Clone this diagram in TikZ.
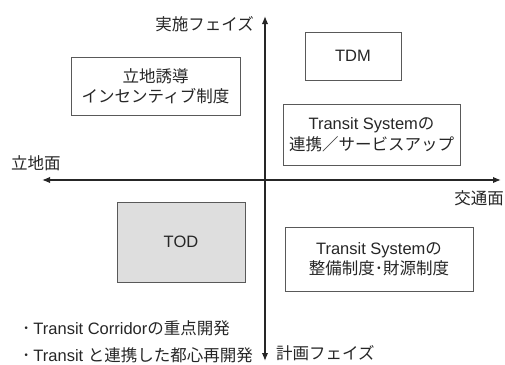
\documentclass[tikz,border=0pt]{standalone}
\usepackage{fontspec}
\setmainfont{Liberation Sans}
\newfontfamily\jp{Noto Sans CJK JP}
\usetikzlibrary{arrows.meta}
\begin{document}
\begin{tikzpicture}[x=1pt,y=-1pt,
  every node/.style={text=black!85, font=\fontsize{16.5}{20.5}\selectfont},
  box/.style={draw=black!65, line width=0.7pt, align=center, inner sep=0pt},
  axis/.style={line width=1.5pt, draw=black!85, {Latex[length=8pt,width=6.5pt]}-{Latex[length=8pt,width=6.5pt]}},
  lbl/.style={inner sep=0pt}]
\useasboundingbox (0,0) rectangle (505,364);
% axes
\coordinate (vtop) at (265,16);
\coordinate (vbot) at (265,361);
\coordinate (hleft) at (42,180);
\coordinate (hright) at (501,180);
\draw[axis] (hleft) -- (hright);
\draw[axis] (vbot) -- (vtop);
% axis labels
\node[lbl, anchor=east] (impl) at (254,24) {\jp 実施フェイズ};
\node[lbl, anchor=west] (land) at (11,163) {\jp 立地面};
\node[lbl, anchor=east] (trans) at (504,198) {\jp 交通面};
\node[lbl, anchor=west] (plan) at (276,353) {\jp 計画フェイズ};
% boxes
\node[box, minimum width=169pt, minimum height=58pt] (incent) at (155.5,86) {{\jp 立地誘導}\\{\jp インセンティブ制度}};
\node[box, minimum width=96pt, minimum height=48pt] (tdm) at (353,56) {TDM};
\node[box, minimum width=177pt, minimum height=61pt] (coop) at (371.5,134.5) {Transit System{\jp の}\\{\jp 連携／サービスアップ}};
\node[box, fill=black!13, minimum width=128pt, minimum height=80pt] (tod) at (181,242) {TOD};
\node[box, minimum width=188pt, minimum height=64pt] (fund) at (379,259) {Transit System{\jp の}\\{\jp 整備制度･財源制度}};
% bullets
\node[lbl, anchor=west] (b1) at (22,328) {{\jp ･}\hspace{3pt}Transit Corridor{\jp の重点開発}};
\node[lbl, anchor=west] (b2) at (22,355) {{\jp ･}\hspace{3pt}Transit {\jp と連携した都心再開発}};
\end{tikzpicture}
\end{document}
